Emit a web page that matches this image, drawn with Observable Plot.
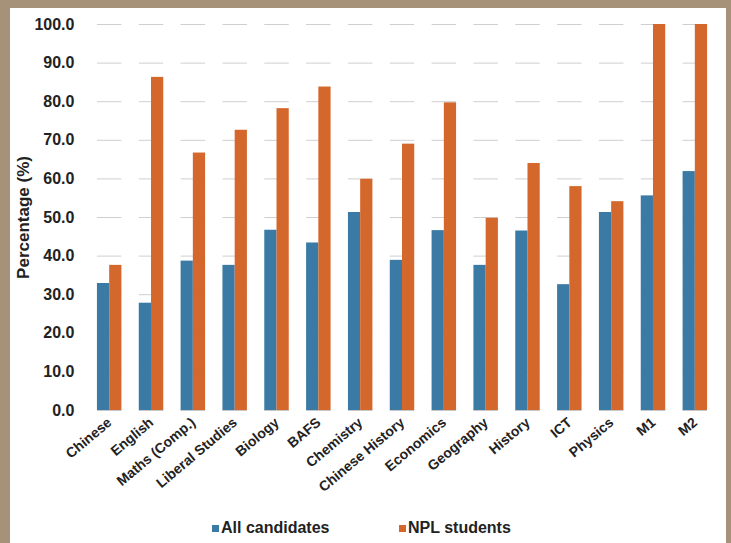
<!DOCTYPE html>
<html>
<head>
<meta charset="utf-8">
<script src="https://cdn.jsdelivr.net/npm/d3@7"></script>
<script src="https://cdn.jsdelivr.net/npm/@observablehq/plot@0.6"></script>
<style>
  html, body { margin: 0; padding: 0; }
  body { width: 731px; height: 543px; background: #a69279; position: relative; overflow: hidden; font-family: "Liberation Sans", Arial, sans-serif; }
  #panel { position: absolute; left: 10px; top: 8px; width: 716px; height: 540px; background: #ffffff; }
  #chart { position: absolute; left: 0; top: 0; }
  #legend { position: absolute; left: 0; top: 519px; width: 731px; height: 22px; font-weight: bold; font-size: 16px; color: #222; }
  .item { position: absolute; top: 0; display: flex; align-items: center; }
  .sw { width: 7px; height: 7px; margin-right: 2px; }
</style>
</head>
<body>
<div id="panel"></div>
<div id="chart"></div>
<div id="legend"></div>
<script>
const subjects = ["Chinese", "English", "Maths (Comp.)", "Liberal Studies", "Biology", "BAFS", "Chemistry", "Chinese History", "Economics", "Geography", "History", "ICT", "Physics", "M1", "M2"];
const allCandidates = [32.9, 27.8, 38.7, 37.6, 46.7, 43.4, 51.3, 38.9, 46.6, 37.6, 46.5, 32.6, 51.3, 55.6, 61.9];
const nplStudents = [37.6, 86.3, 66.7, 72.6, 78.2, 83.8, 59.9, 69.0, 79.7, 49.8, 64.0, 58.0, 54.1, 100.0, 100.0];
const seriesNames = ["All candidates", "NPL students"];
const seriesColors = ["#3c7aa6", "#d4672c"];
const yTicks = [0, 10, 20, 30, 40, 50, 60, 70, 80, 90, 100];

const rows = [];
subjects.forEach((s, i) => {
  rows.push({subject: s, series: seriesNames[0], value: allCandidates[i]});
  rows.push({subject: s, series: seriesNames[1], value: nplStudents[i]});
});

const chart = Plot.plot({
  width: 731,
  height: 505,
  marginLeft: 89,
  marginRight: 16,
  marginTop: 24,
  marginBottom: 95,
  style: {fontFamily: "'Liberation Sans', Arial, sans-serif", fontWeight: "bold", color: "#222", background: "transparent"},
  fx: {domain: subjects, paddingInner: 0.415, paddingOuter: 0.19, round: false},
  x: {domain: seriesNames, padding: 0, axis: null, round: false},
  y: {domain: [0, 100]},
  color: {domain: seriesNames, range: seriesColors},
  marks: [
    Plot.gridY(yTicks, {stroke: "#cfcfcf", strokeOpacity: 1}),
    Plot.ruleY([0], {stroke: "#c8c8c8"}),
    Plot.barY(rows, {fx: "subject", x: "series", y: "value", fill: "series"}),
    Plot.axisY(yTicks, {tickSize: 0, tickPadding: 0, dx: -23, fontSize: 16, tickFormat: d3.format(".1f"), label: null}),
    Plot.axisY([], {tickSize: 0, fontSize: 17, label: "Percentage (%)", labelAnchor: "center", labelArrow: "none", labelOffset: 81}),
    Plot.axisFx({anchor: "bottom", tickRotate: -40, tickSize: 0, tickPadding: 10, fontSize: 14, label: null, dx: 0})
  ]
});
document.getElementById("chart").appendChild(chart);

const legend = document.getElementById("legend");
const legendX = [212, 399];
seriesNames.forEach((n, i) => {
  const it = document.createElement("div");
  it.className = "item";
  it.style.left = legendX[i] + "px";
  const sw = document.createElement("span");
  sw.className = "sw";
  sw.style.background = seriesColors[i];
  const t = document.createElement("span");
  t.textContent = n;
  it.appendChild(sw);
  it.appendChild(t);
  legend.appendChild(it);
});
</script>
</body>
</html>
